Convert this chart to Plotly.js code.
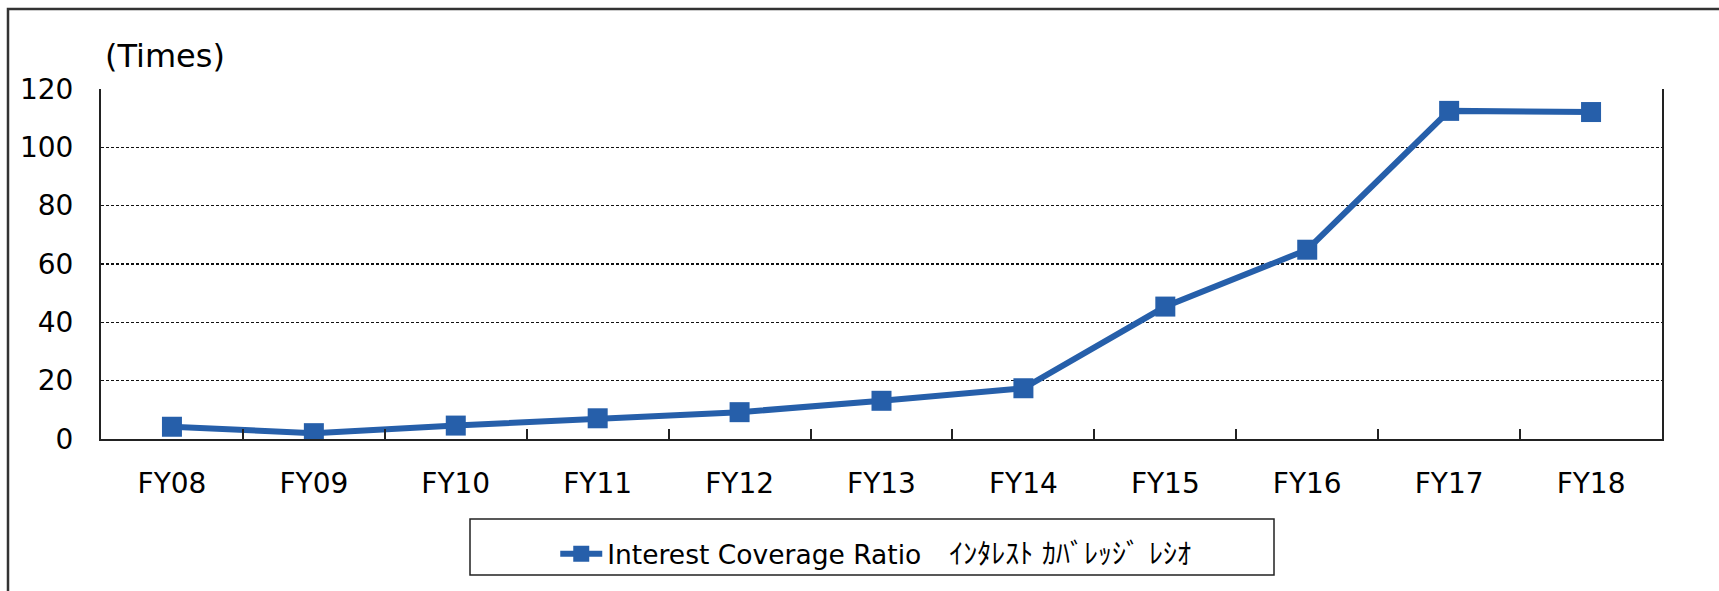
<!DOCTYPE html>
<html>
<head>
<meta charset="utf-8">
<script src="https://cdn.plot.ly/plotly-3.0.1.min.js"></script>
<style>
  html, body { margin: 0; padding: 0; background: #fff; }
  #chart { width: 1719px; height: 591px; }
</style>
</head>
<body>
<div id="chart"></div>
<script>
const categories = ["FY08", "FY09", "FY10", "FY11", "FY12", "FY13", "FY14", "FY15", "FY16", "FY17", "FY18"];
const coverageRatio = [4.2, 2.0, 4.6, 7.1, 9.2, 13.1, 17.4, 45.4, 64.9, 112.5, 112.1];
const seriesNameEn = "Interest Coverage Ratio";
const seriesNameJa = "\u3000ｲﾝﾀﾚｽﾄ ｶﾊﾞﾚｯｼﾞ ﾚｼｵ";
const yTickValues = [0, 20, 40, 60, 80, 100, 120];
const unitLabel = "(Times)";

const blue = "#265FAA";
const fontFamily = "DejaVu Sans, Noto Sans CJK JP, sans-serif";

const trace = {
  x: categories,
  y: coverageRatio,
  name: seriesNameEn + '<span style="font-size:28px">' + seriesNameJa + '</span>',
  type: "scatter",
  mode: "lines+markers",
  line: { color: blue, width: 6 },
  marker: { symbol: "square", size: 20, color: blue, line: { width: 0 } },
  showlegend: true,
  hoverinfo: "x+y"
};

const layout = {
  width: 1719,
  height: 591,
  margin: { l: 101, r: 57, t: 89, b: 152, pad: 0 },
  paper_bgcolor: "#ffffff",
  plot_bgcolor: "#ffffff",
  font: { family: fontFamily, size: 28, color: "#000000" },
  showlegend: true,
  xaxis: {
    type: "category",
    range: [-0.5, categories.length - 0.5],
    showline: true,
    linecolor: "#222222",
    linewidth: 2,
    mirror: false,
    showgrid: false,
    zeroline: false,
    ticks: "inside",
    tickson: "boundaries",
    ticklen: 10,
    tickwidth: 2,
    tickcolor: "#222222",
    ticklabelstandoff: 18,
    tickfont: { family: fontFamily, size: 28, color: "#000000" }
  },
  yaxis: {
    range: [0, 120],
    tickvals: yTickValues,
    ticktext: yTickValues.map(String),
    showline: true,
    linecolor: "#222222",
    linewidth: 2,
    mirror: true,
    showgrid: true,
    gridcolor: "#111111",
    gridwidth: 1.2,
    griddash: "3px,2px",
    zeroline: false,
    ticks: "",
    ticklabelstandoff: 20,
    tickfont: { family: fontFamily, size: 28, color: "#000000" }
  },
  legend: {
    orientation: "h",
    x: 0.291,
    xanchor: "left",
    y: -0.26,
    yanchor: "top",
    bgcolor: "rgba(0,0,0,0)",
    borderwidth: 0,
    itemwidth: 42,
    font: { family: fontFamily, size: 26.5, color: "#000000" }
  },
  shapes: [
    {
      type: "rect", xref: "paper", yref: "paper",
      x0: (470 - 101) / 1561, x1: (1274 - 101) / 1561,
      y0: (439 - 575) / 350, y1: (439 - 519) / 350,
      line: { color: "#222222", width: 1.5 },
      fillcolor: "rgba(0,0,0,0)",
      layer: "below"
    },
    {
      type: "rect", xref: "paper", yref: "paper",
      x0: (8 - 101) / 1561, x1: (1740 - 101) / 1561,
      y0: (439 - 620) / 350, y1: (439 - 9) / 350,
      line: { color: "#333333", width: 2.5 },
      fillcolor: "rgba(0,0,0,0)",
      layer: "below"
    }
  ],
  annotations: [
    {
      text: unitLabel,
      xref: "paper", yref: "paper",
      x: (103 - 101) / 1561, y: (439 - 56) / 350,
      xanchor: "left", yanchor: "middle",
      showarrow: false,
      font: { family: fontFamily, size: 32, color: "#000000" }
    }
  ]
};

Plotly.newPlot("chart", [trace], layout, { displayModeBar: false, staticPlot: true });
</script>
</body>
</html>
